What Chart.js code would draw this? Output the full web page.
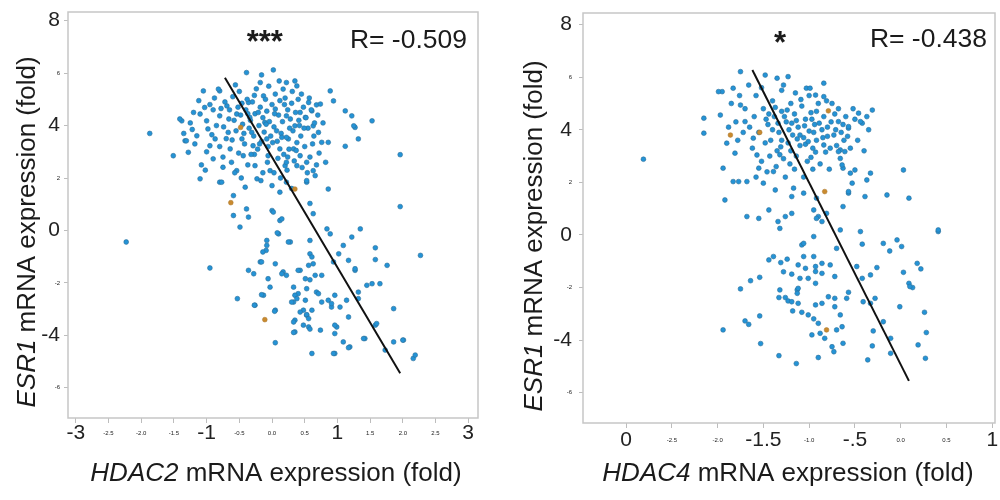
<!DOCTYPE html>
<html>
<head>
<meta charset="utf-8">
<script src="https://cdn.jsdelivr.net/npm/chart.js@4.4.1/dist/chart.umd.min.js"></script>
<style>
  html, body { margin: 0; padding: 0; background: #fff; }
  .panel { position: absolute; top: 0; width: 500px; height: 500px; }
</style>
</head>
<body>
<div class="panel" style="left:0"><canvas id="hdac2_chart" width="500" height="500"></canvas></div>
<div class="panel" style="left:500px"><canvas id="hdac4_chart" width="500" height="500"></canvas></div>
<script>
// ---- data ----

// y axis: same ticks on both panels (big = relabelled, small = original)
var yTicks = [-6, -4, -2, 0, 2, 4, 6, 8];
var yTickLabels = ['-6', '-4', '-2', '0', '2', '4', '6', '8'];
var yTickBig = [false, true, false, true, false, true, false, true];

// HDAC2 panel
var hdac2Ticks = [-3, -2.5, -2, -1.5, -1, -0.5, 0, 0.5, 1, 1.5, 2, 2.5, 3];
var hdac2TickLabels = ['-3', '-2.5', '-2.0', '-1.5', '-1', '-0.5', '0.0', '0.5', '1', '1.5', '2.0', '2.5', '3'];
var hdac2TickBig = [true, false, false, false, true, false, false, false, true, false, false, false, true];
var hdac2Points = [
  [-1.87,3.70],[-1.51,2.85],[-1.38,4.18],[-1.33,3.42],[-1.10,1.97],[-1.05,5.32],[-0.80,5.32],[-0.80,1.84],
  [-0.59,0.57],[-0.49,0.13],[-0.36,0.51],[-0.39,6.02],[-0.16,5.93],[0.02,6.12],[0.22,5.64],[0.35,5.70],
  [0.89,5.32],[0.94,4.94],[0.68,4.79],[1.12,4.56],[1.22,4.37],[1.27,3.93],[1.32,3.49],[1.53,4.18],
  [1.96,2.89],[1.96,0.91],[1.12,3.21],[0.86,1.58],[0.84,0.06],[1.35,0.06],[1.22,-0.25],[-2.23,-0.44],
  [0.58,1.03],[0.63,0.64],[0.53,1.84],[0.12,0.38],[0.00,0.76],[-0.08,-0.38],[0.28,-0.44],[0.58,-0.38],
  [-1.41,4.25],[-1.31,3.42],[-1.28,2.98],[-1.15,3.61],[-1.10,4.44],[-1.03,4.69],[-1.00,4.18],[-0.98,3.87],
  [-0.95,3.23],[-0.90,2.73],[-0.87,3.49],[-0.82,5.39],[-0.80,4.37],[-0.77,1.84],[-0.75,2.41],[-0.69,4.75],
  [-0.67,3.74],[-0.64,3.11],[-0.59,1.33],[-0.54,4.44],[-0.54,2.28],[-0.46,3.49],[-0.44,2.85],[-0.41,1.65],
  [-0.39,0.82],[-0.36,4.88],[-0.34,4.31],[-0.31,3.74],[-0.29,3.23],[-0.26,2.47],[-0.23,1.97],[-0.18,5.64],
  [-0.13,5.13],[-0.11,4.12],[-0.08,3.49],[-0.06,2.85],[-0.03,2.28],[0.00,1.71],[0.02,0.70],[0.05,4.63],
  [0.07,3.80],[0.12,3.11],[0.15,0.44],[0.17,5.39],[0.20,2.47],[0.22,4.37],[0.25,3.49],[0.22,1.84],[0.12,1.46],
  [0.74,4.82],[1.25,3.99],[0.63,3.99],[0.71,3.74],[0.76,3.36],[0.86,3.36],[0.63,2.28],[0.66,2.09],[0.53,1.90],
  [0.38,5.51],[0.56,4.88],[0.43,4.50],[0.51,4.31],[0.61,4.56],[0.35,3.99],[0.33,3.11],[0.43,2.85],[0.53,2.60],
  [0.38,2.47],[0.22,2.60],
  [-0.72,4.9],[-0.65,4.6],[-0.60,5.1],[-0.58,4.2],[-0.55,3.8],[-0.52,4.7],[-0.50,5.3],[-0.48,4.4],[-0.45,4.05],
  [-0.42,3.3],[-0.40,4.6],[-0.38,5.0],[-0.35,3.9],[-0.33,4.2],[-0.30,4.9],[-0.28,3.6],[-0.26,4.45],[-0.24,5.4],
  [-0.22,3.1],[-0.20,4.0],[-0.18,4.7],[-0.16,3.4],[-0.14,4.3],[-0.12,3.75],[-0.10,5.0],[-0.08,4.55],[-0.06,3.2],
  [-0.04,4.15],[-0.02,3.6],[0.00,4.8],[0.03,3.95],[0.05,5.2],[0.08,3.4],[0.10,4.4],[0.12,4.95],[0.14,3.7],
  [0.16,4.15],[0.18,2.9],[0.20,5.05],[0.22,3.55],[0.24,4.6],[0.26,3.1],[0.28,4.25],[0.30,4.85],[0.32,3.8],
  [0.34,2.65],[0.36,4.5],[0.38,3.35],[0.40,5.0],[0.42,4.0],[0.44,3.6],[0.46,2.4],[0.48,4.7],[0.50,3.2],
  [0.52,4.3],[0.55,3.9],[0.58,2.8],[0.60,4.6],[0.62,3.3],[0.65,4.1],[0.68,2.5],[0.70,4.4],[-0.85,4.0],
  [-0.90,4.6],[-0.80,3.2],[-0.75,2.8],[-0.70,3.5],[-0.62,2.6],[-0.57,2.2],[-0.47,2.0],[-0.37,2.5],[-0.27,2.9],
  [-0.17,1.9],[-0.07,2.6],[0.03,2.2],[0.13,2.0],[0.23,2.3],[0.30,1.6],[-1.20,4.5],[-1.25,4.1],[-1.18,3.3],
  [-1.08,2.5],[-1.00,3.0],[-0.95,4.8],[-1.35,3.7],
  [-1.22,3.85],[-1.12,4.95],[-1.02,2.3],[-0.92,3.65],[-0.88,5.05],[-0.78,4.65],[-0.74,3.95],[-0.66,4.25],
  [-0.61,3.45],[-0.56,5.55],[-0.51,2.95],[-0.46,4.85],[-0.43,3.7],[-0.37,4.45],[-0.32,2.9],[-0.27,5.15],
  [-0.21,4.5],[-0.19,3.3],[-0.14,2.2],[-0.09,4.05],[-0.05,5.5],[0.01,3.35],[0.04,4.45],[0.09,2.75],
  [0.11,5.7],[0.15,3.55],[0.19,4.8],[0.24,2.8],[0.27,3.9],[0.31,5.3],[0.37,3.05],[0.41,4.2],
  [0.45,5.2],[0.49,3.9],[0.54,2.2],[0.57,5.05],[0.64,3.6],[0.72,2.95],[0.78,4.1],[0.82,2.6],
  [-0.95,-1.43],[-0.53,-2.60],[-0.36,-1.52],[-0.28,-1.65],[-0.26,-2.85],[-0.18,-1.20],[-0.13,-2.47],[-0.08,-0.57],
  [-0.09,-0.76],[-0.06,-1.84],[-0.03,-2.16],[0.05,-1.27],[0.05,-3.04],[0.05,-4.28],[0.10,-0.13],[0.17,-1.58],
  [0.22,-1.71],[0.25,-0.44],[0.33,-2.16],[0.33,-2.73],[0.35,-3.42],[0.35,-3.87],[0.40,-2.41],[0.43,-1.52],
  [0.48,-3.04],[0.51,-2.66],[0.53,-3.23],[0.56,-3.68],[0.58,-1.88],[0.61,-3.04],[0.58,-0.89],[0.61,-4.69],
  [0.63,-1.27],[0.68,-2.35],[0.74,-3.80],[0.76,-1.71],[0.86,-2.66],[0.91,-2.92],[0.94,-1.20],[0.96,-2.47],
  [0.96,-3.93],[0.96,-4.69],[0.99,-3.68],[1.02,-0.89],[1.09,-4.25],[1.14,-2.66],[1.17,-1.14],[1.17,-3.30],
  [1.19,-4.44],[1.27,-1.52],[1.32,-2.60],[1.32,-2.35],[1.42,-4.12],[1.45,-2.09],[1.58,-0.66],[1.58,-1.11],
  [1.58,-3.61],[1.65,-2.03],[1.76,-1.33],[1.86,-2.98],[1.86,-4.25],[2.01,-4.18],[2.16,-4.88],[2.19,-4.75],
  [2.27,-0.95],[1.73,-4.56],[1.09,-0.57],[0.89,-0.13],[0.61,-1.01],[0.56,-1.33],[0.40,-1.52],[0.51,-1.84],
  [0.66,-1.71],[0.53,-2.22],[0.35,-2.47],[0.38,-2.60],[0.30,-2.73],[0.71,-2.41],[0.76,-2.73],[0.91,-2.79],
  [1.04,-2.92],[0.43,-3.11],[0.53,-3.21],[0.56,-3.36],[0.33,-3.49],[0.48,-3.61],[0.58,-3.76],[0.33,-3.89],
  [0.96,-3.61],[1.17,-4.47],[0.94,-4.69],[1.27,-1.46],[1.53,-2.03],[1.40,-4.12],[1.60,-3.55],[2.00,-4.18],
  [-0.16,-2.45],[-0.16,-1.20],[-0.14,-0.82],[0.04,-3.08],[0.08,-0.09],[0.15,-1.65],[-0.27,-2.85]
];
var hdac2Orange = [[-0.63,1.06],[-0.48,3.93],[0.35,1.58],[-0.11,-3.40]];
var hdac2Fit = [[-0.72,5.82],[1.96,-5.44]];

// HDAC4 panel
var hdac4Ticks = [-3, -2.5, -2, -1.5, -1, -0.5, 0, 0.5, 1];
var hdac4TickLabels = ['0', '-2.5', '-2.0', '-1.5', '-1.0', '-.5', '0.0', '0.5', '1'];
var hdac4TickBig = [true, false, false, true, false, true, false, false, true];
var hdac4Points = [
  [-2.81,2.88],[-2.15,4.44],[-2.15,3.87],[-1.95,5.45],[-1.94,2.54],[-1.92,1.33],[-1.83,2.03],[-1.77,2.03],
  [-1.68,2.03],[-1.75,6.21],[-1.68,0.70],[-1.55,0.63],[-1.48,6.08],[-1.44,0.95],[-1.35,5.96],[-1.34,0.51],
  [-1.32,0.25],[-1.23,6.02],[-1.26,0.70],[-1.19,1.46],[-1.06,1.59],[-1.03,5.58],[-0.84,5.77],[-0.66,3.23],
  [-0.63,2.54],[-0.57,1.59],[-0.57,4.06],[-0.46,4.63],[-0.42,4.25],[-0.31,4.75],[-0.37,2.09],[-0.15,1.52],
  [0.03,2.47],[0.09,1.40],[0.41,0.13],[-0.66,0.19],[-0.44,0.13],[-0.95,0.95],[-0.90,0.70],[-0.86,0.51],
  [-1.08,-0.38],[-0.55,2.35],[-1.99,5.45],[-1.83,5.58],[-1.66,5.70],[-1.75,4.94],[-1.70,4.31],[-1.61,3.68],
  [-1.57,3.04],[-1.55,2.54],[-1.97,4.56],[-1.90,3.49],[-1.81,3.11],[-1.37,1.71],[-1.17,1.78],[-1.50,1.97],
  [-1.39,2.41],[-1.28,5.70],[-1.19,0.82],[-0.99,5.58],[-0.93,5.32],[-0.84,5.26],[-0.37,4.50],[-0.44,4.31],
  [-0.57,4.12],[-0.68,4.31],[-0.73,3.80],[-0.84,3.42],[-0.68,3.17],[-0.61,3.17],[-0.66,2.91],[-0.64,2.66],
  [-0.50,2.47],[-0.33,2.35],[-0.53,1.97],[-0.57,1.65],[-0.39,1.46],[-0.63,1.08],[-0.92,1.40],[-0.92,0.63],
  [-0.81,0.82],[-0.95,-0.06],[-1.06,-0.32],[-0.04,-0.19],[-0.19,-0.32],
  [-1.50,4.8],[-1.45,4.2],[-1.42,3.6],[-1.40,5.1],[-1.38,4.5],[-1.35,3.2],[-1.33,3.9],[-1.30,4.7],[-1.28,2.9],
  [-1.25,4.3],[-1.23,3.5],[-1.20,5.0],[-1.18,3.8],[-1.16,4.6],[-1.14,3.0],[-1.12,4.1],[-1.10,3.4],[-1.08,4.9],
  [-1.06,3.7],[-1.04,4.4],[-1.02,2.8],[-1.00,3.95],[-0.98,4.65],[-0.96,3.3],[-0.94,4.2],[-0.92,3.6],[-0.90,5.0],
  [-0.88,2.7],[-0.86,4.0],[-0.84,4.5],[-0.82,3.15],[-0.80,3.75],[-0.78,2.5],[-0.76,4.3],[-1.60,4.5],[-1.62,3.3],
  [-1.58,5.3],[-1.55,3.9],[-1.52,2.8],[-1.48,3.5],[-1.46,2.4],[-1.36,2.6],[-1.26,2.2],[-1.16,2.5],[-1.06,2.2],
  [-0.96,2.5],[-1.70,4.8],[-1.72,3.9],[-1.80,4.3],[-1.85,5.0],[-1.76,5.3],[-1.30,5.5],[-1.15,5.4],[-1.00,5.3],
  [-0.92,4.7],[-1.40,4.0],[-1.22,4.0],[-1.10,3.8],[-1.30,3.6],[-0.95,3.9],[-0.72,4.6],[-0.70,3.4],[-0.75,5.0],
  [-0.80,4.1],[-0.65,3.9],[-0.60,4.5],[-0.62,3.6],[-0.55,3.3],[-0.52,4.8],[-1.44,4.6],[-1.34,4.25],[-1.24,4.75],
  [-1.14,4.35],[-1.04,3.45],[-0.98,2.95],[-1.20,3.2],[-1.32,3.05],
  [-1.88,4.1],[-1.78,3.6],[-1.65,4.1],[-1.58,2.2],[-1.52,5.6],[-1.47,4.4],[-1.43,3.0],[-1.37,4.85],
  [-1.31,3.35],[-1.27,4.5],[-1.21,2.7],[-1.19,4.25],[-1.13,3.65],[-1.09,5.15],[-1.05,4.15],[-1.01,3.55],
  [-0.97,4.4],[-0.93,3.15],[-0.89,4.25],[-0.85,3.7],[-0.81,5.1],[-0.77,3.3],[-0.71,4.0],[-0.68,4.8],
  [-0.63,4.2],[-0.58,3.75],[-0.50,4.4],[-0.47,3.6],[-0.40,3.2],[-0.35,4.0],
  [-1.94,-3.61],[-1.75,-2.05],[-1.64,-1.74],[-1.54,-1.61],[-1.70,-3.27],[-1.66,-3.40],[-1.54,-3.08],[-1.53,-4.13],
  [-1.33,-4.59],[-1.14,-4.89],[-1.44,-0.95],[-1.39,-0.82],[-1.31,-1.05],[-1.24,-0.92],[-1.28,-1.40],[-1.19,-1.49],
  [-1.32,-2.09],[-1.33,-2.38],[-1.26,-2.38],[-1.23,-2.51],[-1.18,-2.89],[-1.13,-2.09],[-1.12,-1.14],
  [-0.70,-0.51],[-0.42,-0.35],[-0.12,-0.61],[0.01,-0.44],[-1.06,-0.82],[-1.04,-1.27],[-0.95,-0.82],[-0.93,-1.20],
  [-0.93,-1.39],[-0.86,-1.08],[-0.86,-1.46],[-0.77,-1.14],[-0.72,-1.58],[-1.10,-1.65],[-1.01,-1.65],[-0.93,-1.84],
  [-1.12,-2.03],[-1.13,-2.22],[-1.19,-2.54],[-1.12,-2.60],[-1.08,-2.94],[-1.01,-3.04],[-0.95,-3.19],[-0.90,-3.36],
  [-0.93,-2.66],[-0.86,-2.60],[-0.79,-2.35],[-0.72,-2.41],[-0.72,-2.73],[-0.66,-3.04],[-0.59,-2.41],[-0.57,-2.18],
  [-0.97,-3.80],[-0.88,-3.74],[-0.83,-3.93],[-0.75,-4.25],[-0.73,-4.44],[-0.70,-3.61],[-0.64,-3.49],[-0.63,-4.12],
  [-0.90,-4.66],[-0.48,-1.20],[-0.42,-1.65],[-0.33,-1.52],[-0.26,-1.24],[-0.41,-2.54],[-0.33,-2.60],[-0.28,-2.41],
  [-0.19,-3.30],[-0.30,-3.65],[-0.11,-3.93],[-0.31,-4.22],[-0.11,-4.50],[-0.36,-4.75],[0.03,-1.42],[0.09,-1.84],
  [0.13,-2.00],[0.18,-1.08],[0.22,-1.29],[-0.01,-2.73],[0.26,-2.94],[0.28,-3.71],[0.19,-4.18],[0.27,-4.69],
  [0.10,-1.96],[0.41,0.19]
];
var hdac4Orange = [[-1.86,3.80],[-1.54,3.90],[-0.79,4.72],[-0.83,1.65],[-0.81,-3.61]];
var hdac4Fit = [[-1.62,6.27],[0.09,-5.55]];

// ---- drawing ----

var FONT = '"Liberation Sans", Arial, sans-serif';

function toXY(arr) {
    return arr.map(function(p) { return {x: p[0], y: p[1]}; });
}

function drawMixed(ctx, parts, cx, baseY, rotate) {
    ctx.save();
    ctx.translate(cx, baseY);
    if (rotate) ctx.rotate(-Math.PI / 2);
    var fonts = parts.map(function(p) { return (p[1] ? 'italic ' : '') + '26px ' + FONT; });
    var widths = parts.map(function(p, i) { ctx.font = fonts[i]; return ctx.measureText(p[0]).width; });
    var total = widths.reduce(function(a, b) { return a + b; }, 0);
    var x = -total / 2;
    ctx.fillStyle = '#1b1b1b';
    ctx.textAlign = 'left';
    ctx.textBaseline = 'alphabetic';
    parts.forEach(function(p, i) {
        ctx.font = fonts[i];
        ctx.fillText(p[0], x, 0);
        x += widths[i];
    });
    ctx.restore();
}

// frame, significance stars, R value and the two axis titles
var panelText = {
    id: 'panelText',
    afterDraw: function(chart, args, o) {
        var ctx = chart.ctx, a = chart.chartArea;
        ctx.save();
        ctx.strokeStyle = '#c6c6c6';
        ctx.lineWidth = 1.5;
        ctx.strokeRect(a.left, a.top, a.right - a.left, a.bottom - a.top);

        ctx.fillStyle = '#1b1b1b';
        ctx.textBaseline = 'alphabetic';
        ctx.font = 'bold 31px ' + FONT;
        ctx.textAlign = 'center';
        ctx.fillText(o.stars, a.left + (a.right - a.left) * o.starsAt, a.top + 40);
        ctx.font = '26.5px ' + FONT;
        ctx.textAlign = 'right';
        ctx.fillText(o.r, a.right - o.rInset, a.top + o.rBase);
        ctx.restore();

        drawMixed(ctx, o.xTitle, o.xTitleX, 481, false);
        drawMixed(ctx, [['ESR1', true], [' mRNA expression (fold)', false]], o.yTitleX, o.yTitleY, true);
    }
};

// big labels 21px, small ones 6px; same line height so they share one centre line
function tickFont(big) {
    return function(c) {
        return big[c.index] ? {family: FONT, size: 21, lineHeight: 1.2}
                            : {family: FONT, size: 6, lineHeight: 4.2};
    };
}

function makePanel(id, p) {
    var ctx = document.getElementById(id).getContext('2d');
    return new Chart(ctx, {
        type: 'scatter',
        data: {
            datasets: [{
                type: 'line',
                data: toXY(p.fit),
                borderColor: '#111',
                borderWidth: 2,
                pointRadius: 0,
                fill: false
            }, {
                data: toXY(p.orange),
                backgroundColor: '#c98a2e',
                borderColor: '#a8742a',
                borderWidth: 0.5,
                pointRadius: 2.4
            }, {
                data: toXY(p.points),
                backgroundColor: '#2493d6',
                borderColor: '#2c6f98',
                borderWidth: 0.6,
                pointRadius: 2.4
            }]
        },
        options: {
            responsive: false,
            animation: false,
            layout: {padding: {left: 0, right: p.padRight, top: p.padTop, bottom: 0}},
            plugins: {
                legend: {display: false},
                tooltip: {enabled: false},
                panelText: p.text
            },
            scales: {
                x: {
                    type: 'linear',
                    min: p.xMin, max: p.xMax,
                    afterBuildTicks: function(s) { s.ticks = p.xTicks.map(function(v) { return {value: v}; }); },
                    afterFit: function(s) { s.height = p.xHeight; s.paddingLeft = 0; s.paddingRight = 0; },
                    grid: {drawOnChartArea: false, drawTicks: true, tickLength: 5, color: '#bdbdbd'},
                    border: {display: false},
                    ticks: {
                        autoSkip: false, maxRotation: 0, padding: p.xPad, crossAlign: 'center',
                        color: '#222',
                        font: tickFont(p.xBig),
                        callback: function(v, i) { return p.xLabels[i]; }
                    }
                },
                y: {
                    type: 'linear',
                    min: p.yMin, max: p.yMax,
                    afterBuildTicks: function(s) { s.ticks = yTicks.map(function(v) { return {value: v}; }); },
                    afterFit: function(s) { s.width = p.yWidth; s.paddingTop = 0; s.paddingBottom = 0; },
                    grid: {drawOnChartArea: false, drawTicks: true, tickLength: 4, color: '#bdbdbd'},
                    border: {display: false},
                    ticks: {
                        autoSkip: false, padding: p.yPad,
                        color: '#222',
                        font: tickFont(yTickBig),
                        callback: function(v, i) { return yTickLabels[i]; }
                    }
                }
            }
        },
        plugins: [panelText]
    });
}

makePanel('hdac2_chart', {
    points: hdac2Points, orange: hdac2Orange, fit: hdac2Fit,
    xTicks: hdac2Ticks, xLabels: hdac2TickLabels, xBig: hdac2TickBig,
    xMin: -3.12, xMax: 3.15, yMin: -7.15, yMax: 8.33,
    padRight: 22, padTop: 12, xHeight: 82, yWidth: 68, yPad: 4, xPad: 10,
    text: {stars: '***', starsAt: 0.48, r: 'R= -0.509', rInset: 11, rBase: 36,
           xTitle: [['HDAC2', true], [' mRNA expression (fold)', false]], xTitleX: 276,
           yTitleX: 35, yTitleY: 232}
});

makePanel('hdac4_chart', {
    points: hdac4Points, orange: hdac4Orange, fit: hdac4Fit,
    xTicks: hdac4Ticks, xLabels: hdac4TickLabels, xBig: hdac4TickBig,
    xMin: -3.47, xMax: 1.03, yMin: -7.15, yMax: 8.44,
    padRight: 5, padTop: 13, xHeight: 77, yWidth: 83, yPad: 7, xPad: 12,
    text: {stars: '*', starsAt: 0.478, r: 'R= -0.438', rInset: 8, rBase: 34,
           xTitle: [['HDAC4', true], [' mRNA expression (fold)', false]], xTitleX: 288,
           yTitleX: 42, yTitleY: 236}
});
</script>
</body>
</html>
